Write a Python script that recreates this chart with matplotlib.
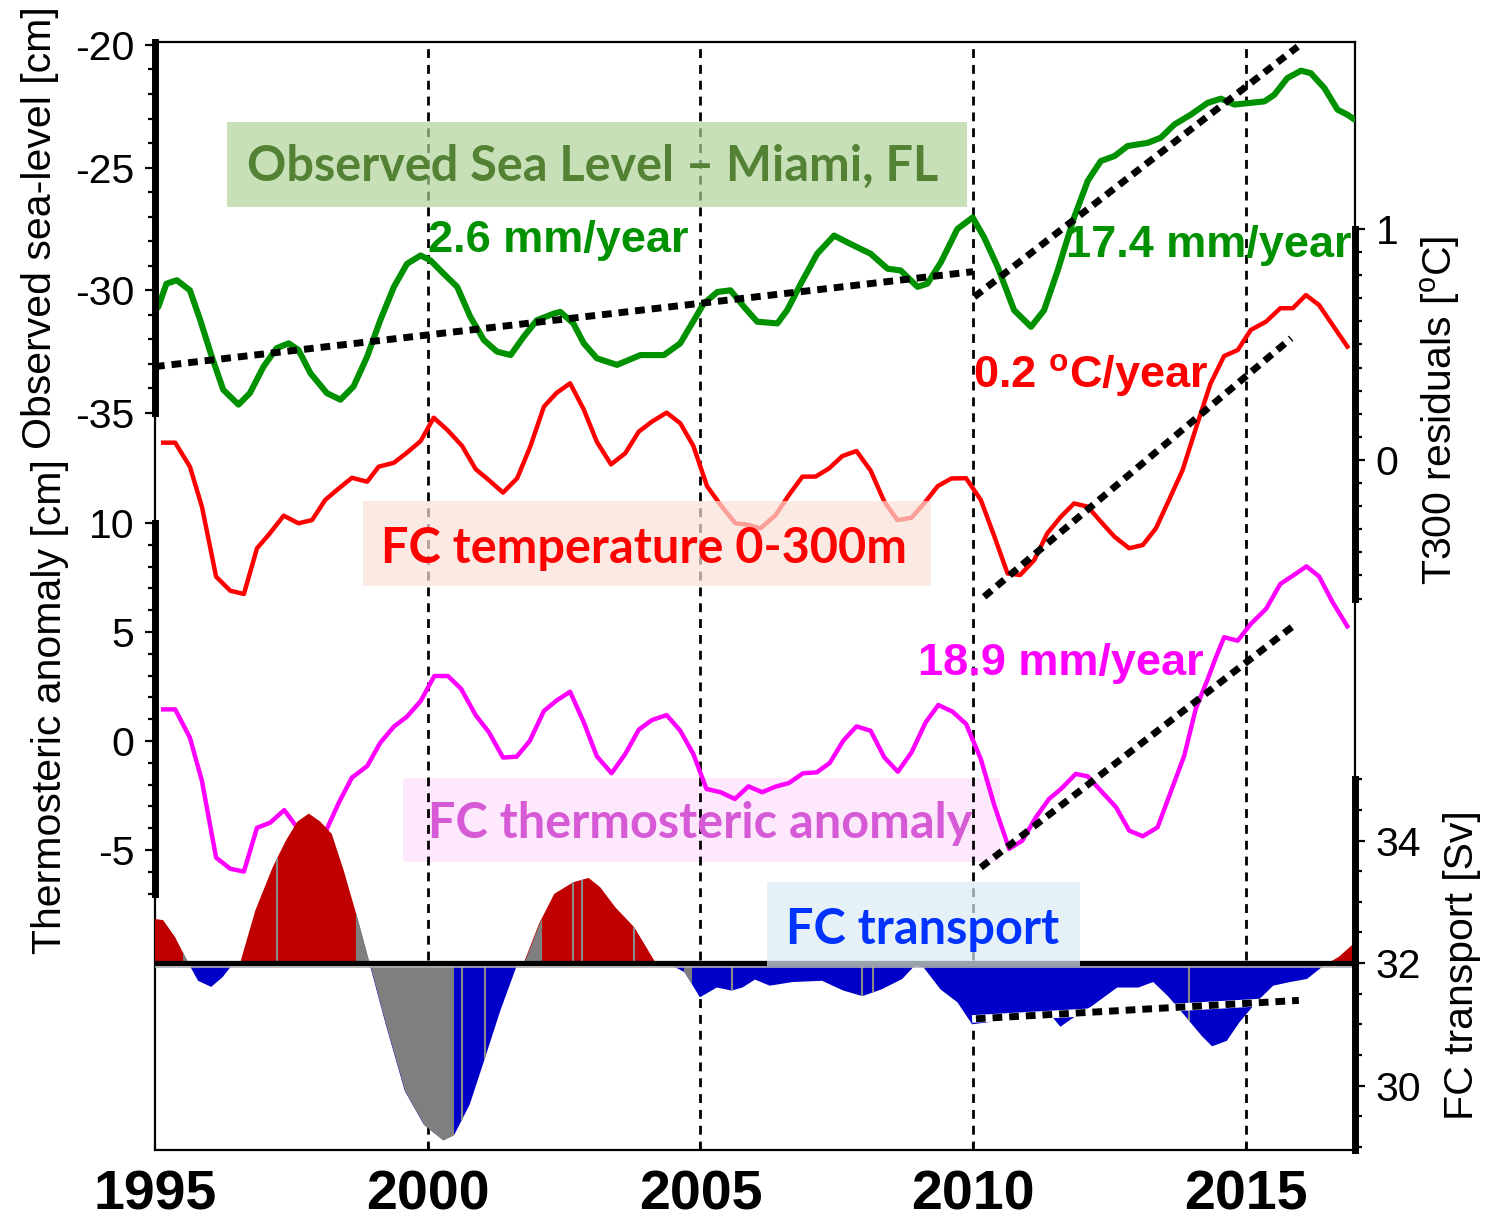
import numpy as np
import matplotlib.pyplot as plt
from matplotlib.patches import Rectangle

plt.rcParams['font.family'] = ['Liberation Sans', 'DejaVu Sans']
plt.rcParams['axes.unicode_minus'] = False
plt.rcParams['mathtext.fontset'] = 'custom'
plt.rcParams['mathtext.rm'] = 'Liberation Sans'
plt.rcParams['mathtext.bf'] = 'Liberation Sans:bold'

# ---- observed sea level, Miami [cm] ----
sl_year = [1995.0, 1995.06, 1995.21, 1995.4, 1995.64, 1995.83, 1996.04, 1996.25, 1996.53, 1996.74,
           1996.99, 1997.23, 1997.45, 1997.63, 1997.85, 1998.15, 1998.4, 1998.64, 1998.89, 1999.13,
           1999.38, 1999.62, 1999.87, 2000.05, 2000.29, 2000.54, 2000.78, 2001.03, 2001.27, 2001.52,
           2001.76, 2002.0, 2002.31, 2002.43, 2002.67, 2002.86, 2003.1, 2003.47, 2003.9, 2004.33,
           2004.63, 2004.88, 2005.06, 2005.31, 2005.55, 2005.8, 2006.04, 2006.41, 2006.59, 2006.84,
           2007.14, 2007.45, 2007.75, 2008.12, 2008.43, 2008.67, 2008.98, 2009.16, 2009.41, 2009.71,
           2009.99, 2010.2, 2010.45, 2010.75, 2011.06, 2011.3, 2011.55, 2011.85, 2012.1, 2012.34,
           2012.59, 2012.83, 2013.2, 2013.44, 2013.69, 2013.99, 2014.3, 2014.54, 2014.79, 2015.09,
           2015.34, 2015.52, 2015.76, 2016.01, 2016.19, 2016.44, 2016.68, 2016.86, 2016.99]
sl_cm = [-30.8, -30.68, -29.73, -29.59, -30.0, -31.22, -32.7, -34.05, -34.66, -34.19,
         -33.11, -32.36, -32.16, -32.43, -33.38, -34.19, -34.46, -33.92, -32.7, -31.22,
         -29.86, -28.92, -28.58, -28.78, -29.32, -29.86, -31.08, -32.03, -32.5, -32.64,
         -31.89, -31.22, -30.95, -30.88, -31.35, -32.16, -32.77, -33.04, -32.64, -32.64,
         -32.16, -31.22, -30.54, -30.07, -30.0, -30.68, -31.28, -31.35, -30.81, -29.73,
         -28.51, -27.77, -28.11, -28.51, -29.12, -29.19, -29.86, -29.73, -28.85, -27.5,
         -27.03, -27.84, -29.05, -30.81, -31.49, -30.81, -29.19, -27.03, -25.54, -24.73,
         -24.53, -24.12, -23.99, -23.78, -23.24, -22.84, -22.36, -22.19, -22.43, -22.36,
         -22.3, -22.03, -21.35, -21.05, -21.15, -21.76, -22.64, -22.84, -23.04]

# ---- FC temperature 0-300 m residuals [degC] ----
t3_year = [1995.15, 1995.37, 1995.64, 1995.86, 1996.12, 1996.38, 1996.63, 1996.87, 1997.08, 1997.36,
           1997.63, 1997.88, 1998.12, 1998.37, 1998.61, 1998.89, 1999.1, 1999.38, 1999.62, 1999.87,
           2000.11, 2000.36, 2000.63, 2000.88, 2001.12, 2001.38, 2001.64, 2001.88, 2002.13, 2002.36,
           2002.61, 2002.86, 2003.1, 2003.36, 2003.62, 2003.87, 2004.11, 2004.38, 2004.63, 2004.87,
           2005.12, 2005.37, 2005.64, 2005.89, 2006.1, 2006.38, 2006.62, 2006.87, 2007.11, 2007.36,
           2007.6, 2007.86, 2008.12, 2008.37, 2008.61, 2008.87, 2009.1, 2009.35, 2009.6, 2009.87,
           2010.14, 2010.39, 2010.63, 2010.86, 2011.12, 2011.36, 2011.61, 2011.85, 2012.1, 2012.34,
           2012.59, 2012.86, 2013.11, 2013.35, 2013.59, 2013.84, 2014.1, 2014.35, 2014.6, 2014.85,
           2015.09, 2015.37, 2015.63, 2015.86, 2016.1, 2016.34, 2016.59, 2016.86]
t3_degc = [0.075, 0.075, -0.029, -0.202, -0.505, -0.566, -0.58, -0.382, -0.325, -0.241,
           -0.274, -0.26, -0.173, -0.123, -0.077, -0.094, -0.029, -0.012, 0.032, 0.082,
           0.183, 0.13, 0.061, -0.04, -0.087, -0.141, -0.079, 0.058, 0.231, 0.29,
           0.332, 0.219, 0.079, -0.019, 0.029, 0.123, 0.166, 0.205, 0.159, 0.061,
           -0.113, -0.195, -0.274, -0.281, -0.296, -0.238, -0.152, -0.072, -0.072, -0.036,
           0.017, 0.039, -0.046, -0.18, -0.26, -0.25, -0.188, -0.113, -0.08, -0.079,
           -0.173, -0.332, -0.491, -0.498, -0.433, -0.317, -0.245, -0.188, -0.202, -0.267,
           -0.332, -0.382, -0.368, -0.296, -0.173, -0.043, 0.15, 0.33, 0.45, 0.476,
           0.563, 0.599, 0.657, 0.657, 0.714, 0.671, 0.584, 0.491]

# ---- FC thermosteric anomaly [cm] ----
th_year = [1995.15, 1995.37, 1995.64, 1995.86, 1996.12, 1996.38, 1996.63, 1996.87, 1997.11, 1997.37,
           1997.61, 1997.86, 1998.12, 1998.37, 1998.61, 1998.89, 1999.13, 1999.38, 1999.62, 1999.87,
           2000.12, 2000.37, 2000.61, 2000.88, 2001.12, 2001.38, 2001.63, 2001.87, 2002.13, 2002.36,
           2002.61, 2002.86, 2003.1, 2003.37, 2003.62, 2003.87, 2004.11, 2004.38, 2004.63, 2004.87,
           2005.11, 2005.37, 2005.63, 2005.88, 2006.13, 2006.38, 2006.62, 2006.88, 2007.13, 2007.37,
           2007.62, 2007.86, 2008.12, 2008.37, 2008.62, 2008.87, 2009.13, 2009.36, 2009.62, 2009.87,
           2010.14, 2010.39, 2010.66, 2010.9, 2011.15, 2011.39, 2011.61, 2011.88, 2012.1, 2012.34,
           2012.62, 2012.86, 2013.11, 2013.38, 2013.62, 2013.87, 2014.08, 2014.3, 2014.45, 2014.6,
           2014.85, 2015.09, 2015.37, 2015.63, 2015.86, 2016.11, 2016.34, 2016.59, 2016.86]
th_cm = [1.45, 1.45, 0.15, -1.83, -5.35, -5.86, -5.99, -3.98, -3.75, -3.17,
         -3.98, -4.1, -4.2, -2.83, -1.68, -1.15, -0.08, 0.66, 1.12, 1.83,
         2.98, 2.98, 2.4, 1.18, 0.41, -0.76, -0.72, 0.0, 1.38, 1.85,
         2.26, 0.86, -0.7, -1.48, -0.6, 0.52, 0.96, 1.19, 0.47, -0.6,
         -2.2, -2.35, -2.66, -2.08, -2.35, -2.09, -1.93, -1.48, -1.44, -1.01,
         0.02, 0.67, 0.47, -0.75, -1.41, -0.52, 0.86, 1.65, 1.35, 0.78,
         -0.83, -2.97, -4.95, -4.57, -3.5, -2.66, -2.2, -1.51, -1.62, -2.28,
         -3.04, -4.11, -4.37, -3.96, -2.35, -0.67, 1.47, 2.84, 3.84, 4.76,
         4.6, 5.37, 6.06, 7.2, 7.58, 8.01, 7.55, 6.36, 5.26]

# ---- FC transport [Sv] ----
fc_year = [1995.0, 1995.15, 1995.37, 1995.61, 1995.79, 1996.03, 1996.24, 1996.44, 1996.56, 1996.84,
           1997.16, 1997.4, 1997.61, 1997.82, 1998.03, 1998.24, 1998.46, 1998.67, 1998.93, 1999.23,
           1999.58, 1999.93, 2000.28, 2000.49, 2000.77, 2001.05, 2001.33, 2001.65, 2001.76, 2002.04,
           2002.32, 2002.67, 2002.95, 2003.16, 2003.44, 2003.79, 2004.18, 2004.39, 2004.71, 2004.99,
           2005.3, 2005.57, 2005.77, 2006.0, 2006.27, 2006.69, 2007.23, 2007.62, 2007.97, 2008.32,
           2008.7, 2008.93, 2009.09, 2009.4, 2009.71, 2009.98, 2010.25, 2010.56, 2011.02, 2011.41,
           2011.6, 2011.79, 2012.18, 2012.64, 2013.03, 2013.3, 2013.57, 2013.88, 2014.19, 2014.38,
           2014.65, 2014.88, 2015.19, 2015.5, 2015.81, 2016.12, 2016.43, 2016.51, 2016.7, 2016.93,
           2017.0]
fc_sv = [32.72, 32.7, 32.42, 32.0, 31.71, 31.61, 31.77, 32.0, 32.0, 32.86,
         33.57, 34.0, 34.31, 34.44, 34.31, 34.11, 33.51, 32.86, 32.0, 31.0,
         29.91, 29.36, 29.11, 29.2, 29.69, 30.45, 31.22, 32.0, 32.0, 32.64,
         33.13, 33.32, 33.39, 33.24, 32.91, 32.58, 32.0, 32.0, 31.85, 31.44,
         31.6, 31.55, 31.6, 31.73, 31.63, 31.69, 31.71, 31.55, 31.46, 31.57,
         31.74, 31.96, 31.93, 31.57, 31.36, 31.0, 31.03, 31.11, 31.11, 31.16,
         30.96, 31.08, 31.3, 31.6, 31.6, 31.69, 31.46, 31.14, 30.81, 30.64,
         30.73, 31.03, 31.36, 31.63, 31.69, 31.74, 31.96, 32.0, 32.1, 32.28,
         32.35]
fc_mean = 32.0
fc_gray_spans = [(1995.52, 1995.62), (1996.48, 1996.58), (1998.68, 2000.47),
                 (2001.76, 2002.07), (2004.70, 2004.83)]
fc_gray_lines = [1997.24, 2000.63, 2001.05, 2002.67, 2002.82, 2003.79,
                 2005.57, 2007.97, 2008.16, 2013.96]

# ---- linear trends ----
sl_trend1_year, sl_trend1_cm = [1995.0, 2010.0], [-33.11, -29.24]
sl_trend2_year, sl_trend2_cm = [2010.02, 2015.95], [-30.27, -20.07]
t3_trend_year, t3_trend_degc = [2010.2, 2015.83], [-0.592, 0.527]
th_trend_year, th_trend_cm = [2010.14, 2015.86], [-5.8, 5.26]
fc_trend_year, fc_trend_sv = [2010.05, 2015.97], [31.09, 31.39]

year_ticks = [1995, 2000, 2005, 2010, 2015]
year_lines = [2000, 2005, 2010, 2015]

W, H = 1491, 1225
fig = plt.figure(figsize=(W / 100, H / 100), dpi=100)
rect = [155 / W, 1 - 1150 / H, 1200 / W, 1108 / H]


def fx(x):
    return x / W


def fy(y):
    return 1 - y / H


# base axes: frame, years, dashed year lines
base = fig.add_axes(rect, zorder=0)
base.set_xlim(1995, 2017)
base.set_ylim(0, 1)
base.set_yticks([])
for s in base.spines.values():
    s.set_linewidth(1.6)
base.set_xticks(year_ticks)
base.set_xticklabels([str(y) for y in year_ticks], fontweight='bold')
base.tick_params(axis='x', direction='in', length=5, width=1.5, labelsize=40, pad=14)
for yr in year_lines:
    base.axvline(yr, color='k', lw=2, ls=(0, (3.2, 2.5)), zorder=1)
base.add_patch(Rectangle((fx(403), fy(862)), fx(1000) - fx(403), fy(778) - fy(862),
                         transform=fig.transFigure, facecolor='#FDE8FD', edgecolor='none',
                         zorder=0.5, clip_on=False))


def overlay(z, ylim, side, bounds, major, minor):
    a = fig.add_axes(rect, sharex=base, facecolor='none', zorder=z)
    a.set_ylim(*ylim)
    for s in a.spines.values():
        s.set_visible(False)
    a.tick_params(axis='x', which='both', bottom=False, top=False, labelbottom=False)
    sp = a.spines[side]
    sp.set_visible(True)
    sp.set_linewidth(5)
    sp.set_bounds(*bounds)
    a.yaxis.set_ticks_position(side)
    a.set_yticks(major)
    a.set_yticks(minor, minor=True)
    a.tick_params(axis='y', which='major', length=7, width=1.6, labelsize=29.5, pad=8)
    a.tick_params(axis='y', which='minor', length=5, width=1.6)
    return a


dots = (0, (1.4, 1.0))

ax_sl = overlay(1, (-65.04, -19.88), 'left', (-35, -19.88),
                [-35, -30, -25, -20], np.arange(-35, -19, 1))
ax_sl.plot(sl_year, sl_cm, color='#009100', lw=4.4, solid_joinstyle='round',
           solid_capstyle='round')
ax_sl.plot(sl_trend1_year, sl_trend1_cm, color='k', lw=5, ls=dots)
ax_sl.plot(sl_trend2_year, sl_trend2_cm, color='k', lw=5, ls=dots)

ax_th = overlay(2, (-18.76, 32.06), 'left', (-7, 10),
                [-5, 0, 5, 10], np.arange(-7, 11, 1))
ax_th.plot(th_year, th_cm, color='#FF00FF', lw=3.2)
ax_th.plot(th_trend_year, th_trend_cm, color='k', lw=5, ls=dots)

ax_t3 = overlay(3, (-2.987, 1.8095), 'right', (-0.6, 1.0),
                [0, 1], np.arange(-0.6, 1.01, 0.1))
ax_t3.plot(t3_year, t3_degc, color='#FF0000', lw=3.2)
ax_t3.plot(t3_trend_year, t3_trend_degc, color='k', lw=5, ls=dots)

ax_fc = overlay(4, (28.947, 47.04), 'right', (28.947, 35),
                [30, 32, 34], np.arange(29, 35.1, 0.5))
fc_t = np.array(fc_year)
fc_v = np.array(fc_sv)
ax_fc.fill_between(fc_t, fc_mean, fc_v, where=fc_v >= fc_mean, interpolate=True,
                   color='#C00000', lw=0)
ax_fc.fill_between(fc_t, fc_mean, fc_v, where=fc_v <= fc_mean, interpolate=True,
                   color='#0000C8', lw=0)
full = ax_fc.fill_between(fc_t, fc_mean, fc_v, color='none', lw=0)
clip_path = full.get_paths()[0]
for a, b in fc_gray_spans:
    g = ax_fc.fill_between(fc_t, fc_mean, fc_v, color='#7F7F7F', lw=0)
    r = Rectangle((a, 0), b - a, 1, transform=ax_fc.get_xaxis_transform())
    g.set_clip_path(r)
vl = ax_fc.vlines(fc_gray_lines, 28.9, 35, color='#8A8A8A', lw=1.5)
vl.set_clip_path(clip_path, ax_fc.transData)
ax_fc.axhline(fc_mean, color='k', lw=3.8)
ax_fc.axhline(31.93, color='#B0B0B0', lw=1.2)
ax_fc.plot(fc_trend_year, fc_trend_sv, color='white', lw=5.5)
ax_fc.plot(fc_trend_year, fc_trend_sv, color='k', lw=5, ls=dots)

# axis labels
fig.text(fx(40), fy(228), 'Observed sea-level [cm]', rotation=90, ha='center', va='center',
         fontsize=29.5)
fig.text(fx(50), fy(707), 'Thermosteric anomaly [cm]', rotation=90, ha='center', va='center',
         fontsize=29.5)
fig.text(fx(1440), fy(410), 'T300 residuals [$^{\\mathrm{o}}$C]', rotation=90, ha='center',
         va='center', fontsize=29.5)
fig.text(fx(1462), fy(965), 'FC transport [Sv]', rotation=90, ha='center', va='center',
         fontsize=29.5)

# translucent label boxes (over the curves)
boxes = [((227, 122, 967, 207), '#B0D39A'),
         ((363, 501, 931, 586), '#F9E2D8'),
         ((767, 882, 1080, 966), '#DBEAF5')]
for (x0, y0, x1, y1), c in boxes:
    fig.add_artist(Rectangle((fx(x0), fy(y1)), fx(x1) - fx(x0), fy(y0) - fy(y1),
                             transform=fig.transFigure, facecolor=c, edgecolor='none',
                             alpha=0.7, zorder=10))

lab = dict(family=['Lato', 'DejaVu Sans'], fontweight='bold', fontsize=35,
           ha='center', va='baseline', zorder=11)
fig.text(fx(593), fy(181), 'Observed Sea Level \u2013 Miami, FL', color='#548235', **lab)
fig.text(fx(644), fy(563), 'FC temperature 0-300m', color='#FF0000', **lab)
fig.text(fx(700), fy(838), 'FC thermosteric anomaly', color='#D65AD5', **lab)
fig.text(fx(923), fy(944), 'FC transport', color='#0033FF', **lab)

rate = dict(fontweight='bold', fontsize=32.5, ha='left', va='baseline', zorder=11)
fig.text(fx(428), fy(252), '2.6 mm/year', color='#009100', **rate)
fig.text(fx(1066), fy(257), '17.4 mm/year', color='#009100', **rate)
fig.text(fx(973), fy(388), '0.2 $^{\\mathbf{o}}$C/year', color='#FF0000', **rate)
fig.text(fx(918), fy(675), '18.9 mm/year', color='#FF00FF', **rate)

fig.savefig('out.png', dpi=100, facecolor='white')
